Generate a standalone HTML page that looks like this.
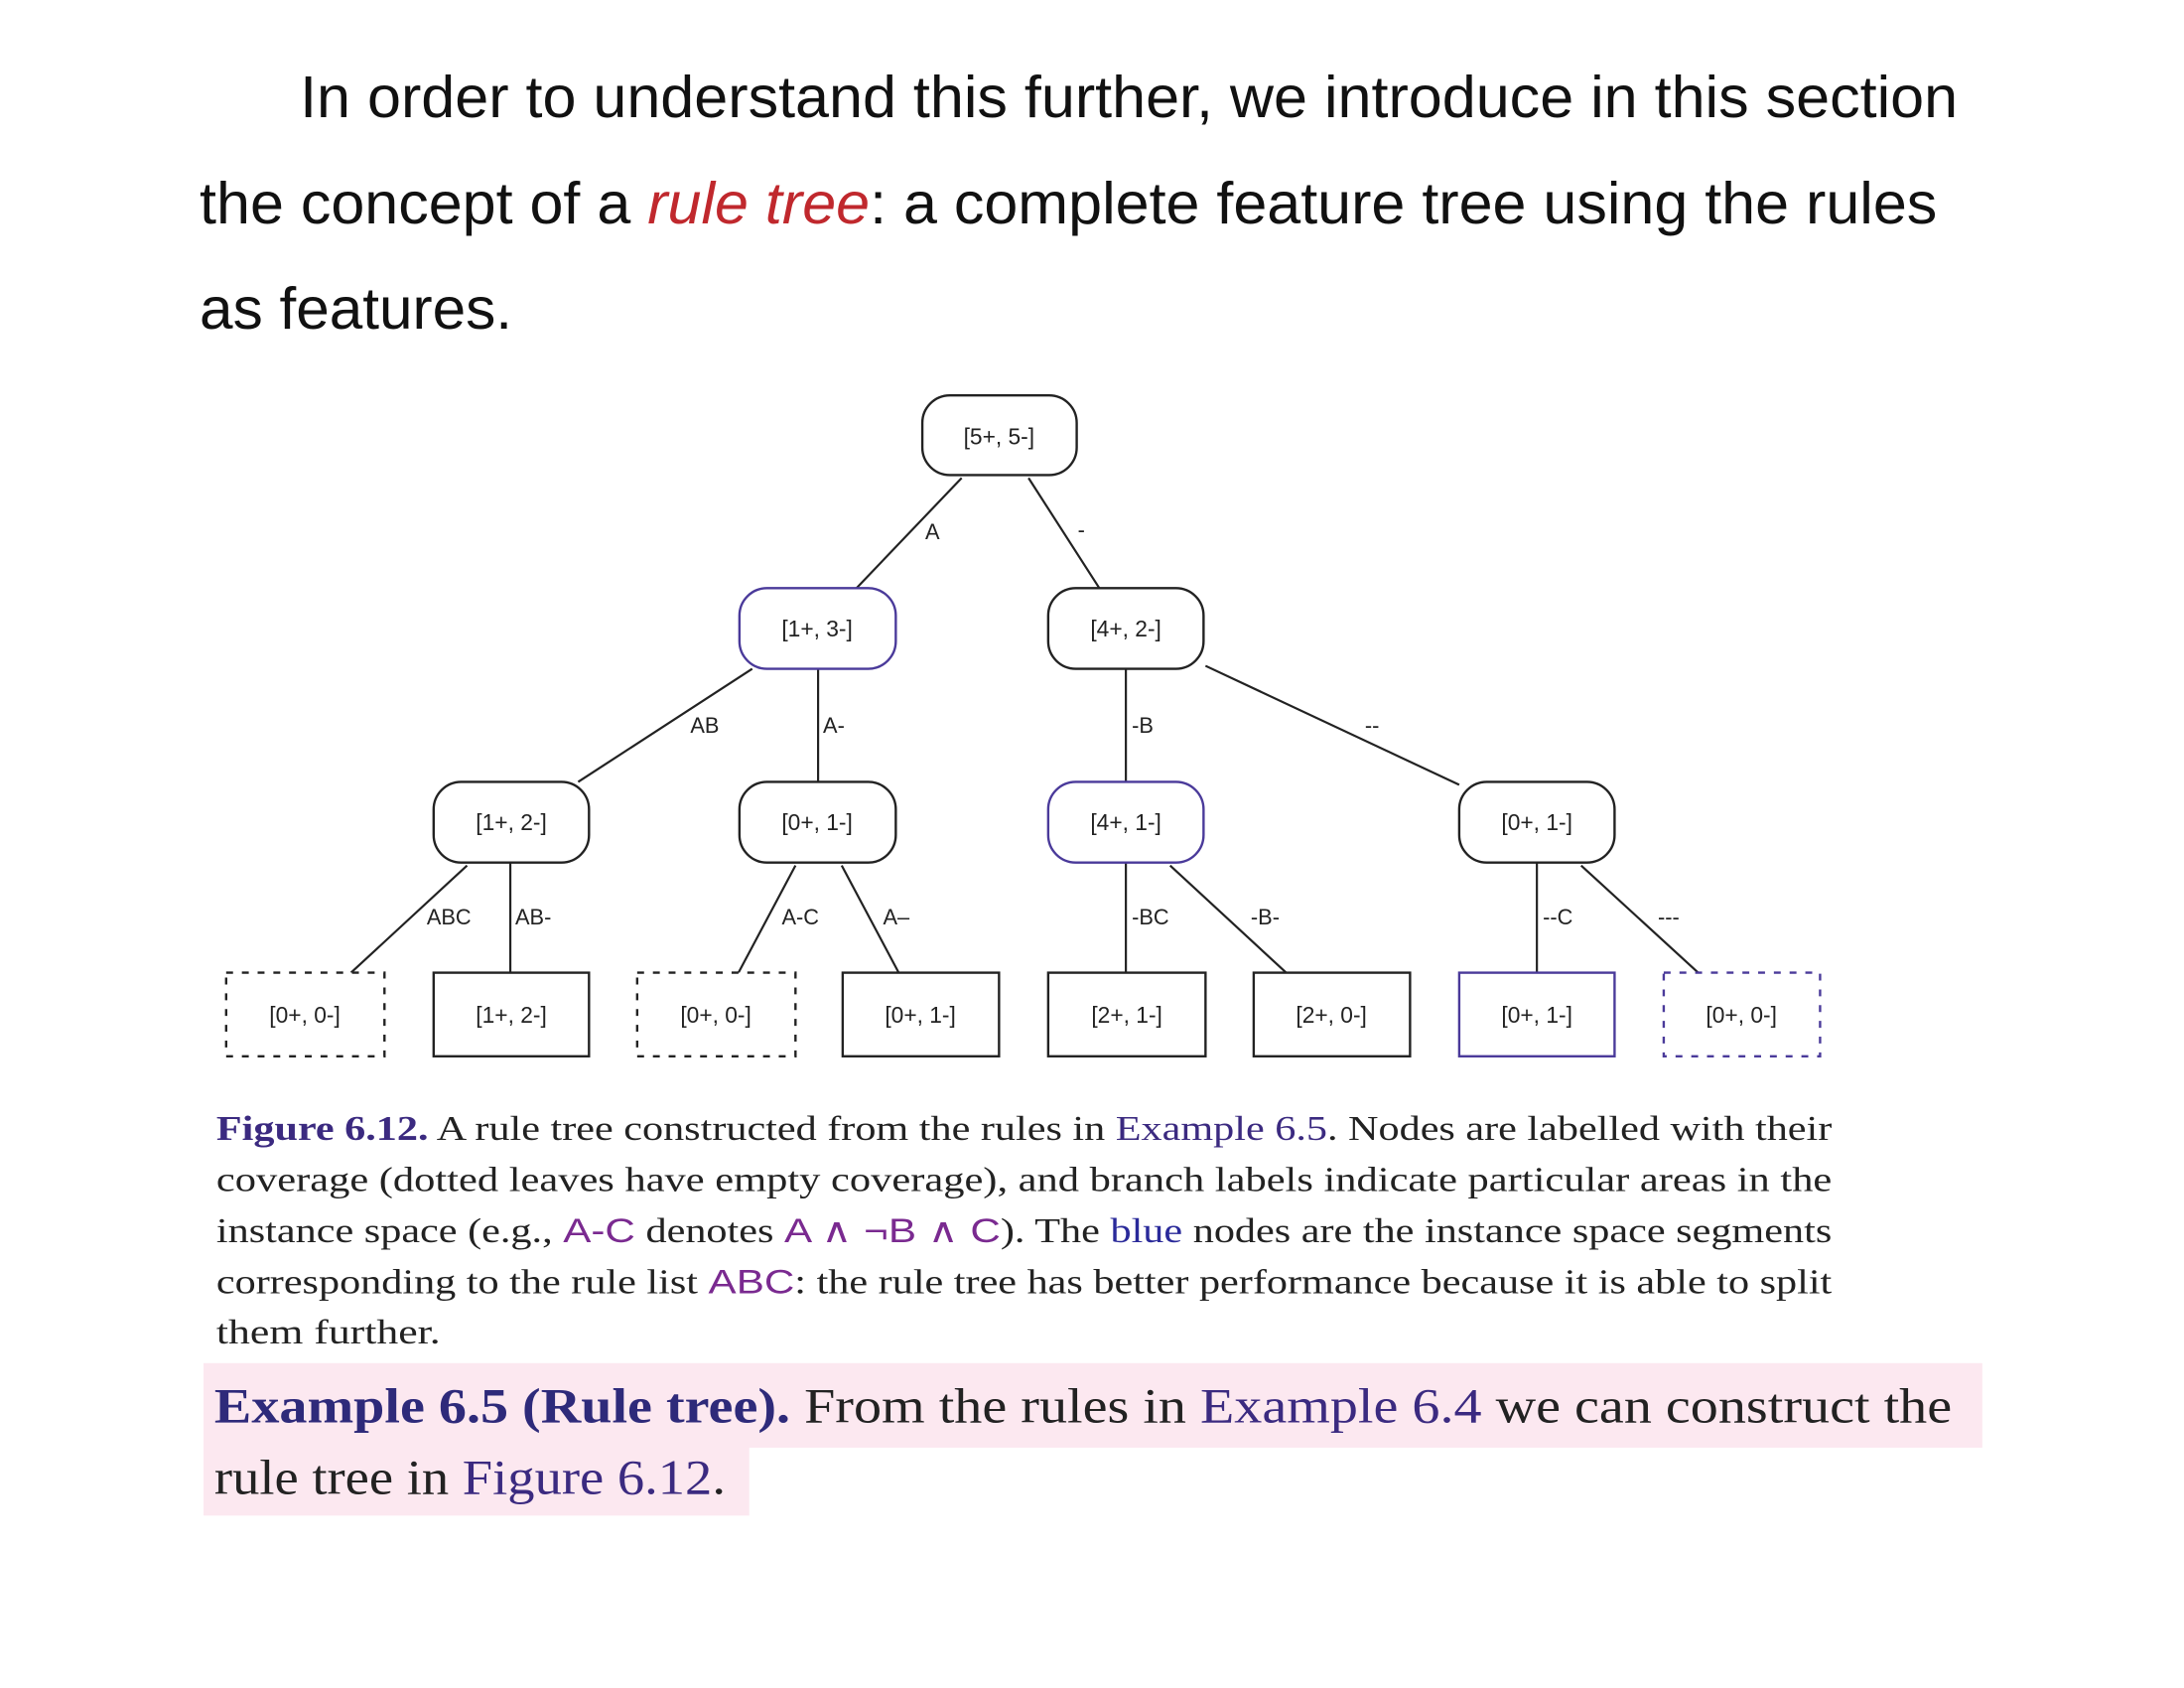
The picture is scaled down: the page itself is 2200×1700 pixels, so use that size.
<!DOCTYPE html>
<html><head><meta charset="utf-8"><style>
html,body{margin:0;padding:0;background:#fff;}
svg{display:block;}
.s{font-family:"Liberation Sans",Arial,sans-serif;}
.r{font-family:"Liberation Serif","DejaVu Serif",serif;}
</style></head><body>
<svg width="2200" height="1700" viewBox="0 0 2200 1700" xmlns="http://www.w3.org/2000/svg">
<g transform="scale(0.9905)">
<g class="s" fill="#111" font-size="60">
<text x="305" y="119" textLength="1686" lengthAdjust="spacingAndGlyphs">In order to understand this further, we introduce in this section</text>
<text x="203" y="227" textLength="1767" lengthAdjust="spacingAndGlyphs">the concept of a <tspan fill="#c0282d" font-style="italic">rule tree</tspan>: a complete feature tree using the rules</text>
<text x="203" y="334" textLength="318" lengthAdjust="spacingAndGlyphs">as features.</text>
</g>
<g stroke="#222" stroke-width="2.2" fill="none">
<line x1="978" y1="486" x2="871" y2="598"/>
<line x1="1046" y1="486" x2="1118" y2="598"/>
<line x1="765" y1="680" x2="588" y2="795"/>
<line x1="832" y1="680" x2="832" y2="795"/>
<line x1="1145" y1="680" x2="1145" y2="795"/>
<line x1="1226" y1="677" x2="1484" y2="798"/>
<line x1="475" y1="880" x2="357" y2="989"/>
<line x1="519" y1="877" x2="519" y2="989"/>
<line x1="809" y1="880" x2="751" y2="989"/>
<line x1="856" y1="880" x2="914" y2="989"/>
<line x1="1145" y1="877" x2="1145" y2="989"/>
<line x1="1190" y1="880" x2="1308" y2="989"/>
<line x1="1563" y1="877" x2="1563" y2="989"/>
<line x1="1608" y1="880" x2="1727" y2="989"/>
</g>
<g fill="#fff" stroke-width="2.4">
<rect x="938" y="402" width="157" height="81" rx="28" stroke="#222"/>
<rect x="752" y="598" width="159" height="82" rx="28" stroke="#4a3a9a"/>
<rect x="1066" y="598" width="158" height="82" rx="28" stroke="#222"/>
<rect x="441" y="795" width="158" height="82" rx="28" stroke="#222"/>
<rect x="752" y="795" width="159" height="82" rx="28" stroke="#222"/>
<rect x="1066" y="795" width="158" height="82" rx="28" stroke="#4a3a9a"/>
<rect x="1484" y="795" width="158" height="82" rx="28" stroke="#222"/>
<rect x="230" y="989" width="161" height="85" stroke="#222" stroke-dasharray="7,9"/>
<rect x="441" y="989" width="158" height="85" stroke="#222"/>
<rect x="648" y="989" width="161" height="85" stroke="#222" stroke-dasharray="7,9"/>
<rect x="857" y="989" width="159" height="85" stroke="#222"/>
<rect x="1066" y="989" width="160" height="85" stroke="#222"/>
<rect x="1275" y="989" width="159" height="85" stroke="#222"/>
<rect x="1484" y="989" width="158" height="85" stroke="#4a3a9a"/>
<rect x="1692" y="989" width="159" height="85" stroke="#4a3a9a" stroke-dasharray="7,9"/>
</g>
<g class="s" font-size="23" fill="#222" text-anchor="middle">
<text x="1016" y="452">[5+, 5-]</text>
<text x="831" y="647">[1+, 3-]</text>
<text x="1145" y="647">[4+, 2-]</text>
<text x="520" y="844">[1+, 2-]</text>
<text x="831" y="844">[0+, 1-]</text>
<text x="1145" y="844">[4+, 1-]</text>
<text x="1563" y="844">[0+, 1-]</text>
<text x="310" y="1040">[0+, 0-]</text>
<text x="520" y="1040">[1+, 2-]</text>
<text x="728" y="1040">[0+, 0-]</text>
<text x="936" y="1040">[0+, 1-]</text>
<text x="1146" y="1040">[2+, 1-]</text>
<text x="1354" y="1040">[2+, 0-]</text>
<text x="1563" y="1040">[0+, 1-]</text>
<text x="1771" y="1040">[0+, 0-]</text>
</g>
<g class="s" font-size="22" fill="#222">
<text x="941" y="548">A</text>
<text x="1096" y="546">-</text>
<text x="702" y="745">AB</text>
<text x="837" y="745">A-</text>
<text x="1151" y="745">-B</text>
<text x="1388" y="745">--</text>
<text x="434" y="940">ABC</text>
<text x="524" y="940">AB-</text>
<text x="795" y="940">A-C</text>
<text x="898" y="940">A–</text>
<text x="1151" y="940">-BC</text>
<text x="1272" y="940">-B-</text>
<text x="1569" y="940">--C</text>
<text x="1686" y="940">---</text>
</g>
<g class="r" font-size="35" fill="#222">
<text x="220" y="1159" textLength="1643" lengthAdjust="spacingAndGlyphs"><tspan fill="#3b2a80" font-weight="bold">Figure 6.12.</tspan> A rule tree constructed from the rules in <tspan fill="#3b2a80">Example 6.5</tspan>. Nodes are labelled with their</text>
<text x="220" y="1211" textLength="1643" lengthAdjust="spacingAndGlyphs">coverage (dotted leaves have empty coverage), and branch labels indicate particular areas in the</text>
<text x="220" y="1263" textLength="1643" lengthAdjust="spacingAndGlyphs">instance space (e.g., <tspan fill="#7a2a90" class="s">A-C</tspan> denotes <tspan fill="#7a2a90" class="s">A ∧ ¬B ∧ C</tspan>). The <tspan fill="#2a2a9a">blue</tspan> nodes are the instance space segments</text>
<text x="220" y="1315" textLength="1643" lengthAdjust="spacingAndGlyphs">corresponding to the rule list <tspan fill="#7a2a90" class="s">ABC</tspan>: the rule tree has better performance because it is able to split</text>
<text x="220" y="1366" textLength="228" lengthAdjust="spacingAndGlyphs">them further.</text>
</g>
<rect x="207" y="1386" width="1809" height="86" fill="#fce8f0"/>
<rect x="207" y="1471" width="555" height="70" fill="#fce8f0"/>
<g class="r" font-size="50" fill="#222">
<text x="218" y="1446" textLength="1767" lengthAdjust="spacingAndGlyphs"><tspan fill="#2e2a7a" font-weight="bold">Example 6.5 (Rule tree).</tspan>  From the rules in <tspan fill="#3b2a80">Example 6.4</tspan> we can construct the</text>
<text x="218" y="1519" textLength="520" lengthAdjust="spacingAndGlyphs">rule tree in <tspan fill="#3b2a80">Figure 6.12</tspan>.</text>
</g>
</g>
</svg>
</body></html>
